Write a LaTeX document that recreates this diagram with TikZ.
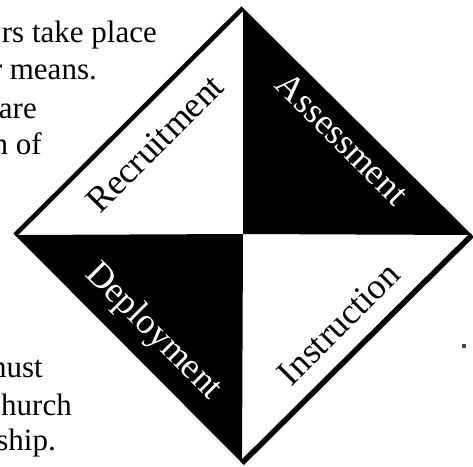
\documentclass[tikz,border=0pt]{standalone}
\usepackage{fontspec}
\setmainfont{Liberation Serif}
\usepackage{tikz}
\tikzset{prose/.style    = {anchor=base east, inner sep=0pt,
                            font=\fontsize{31}{37}\selectfont},
         quadlabel/.style = {anchor=base, inner sep=0pt,
                            font=\fontsize{36}{40}\selectfont},
         rim/.style       = {line width=4.5pt}}

\begin{document}
\begin{tikzpicture}[x=1pt,y=-1pt]
	\useasboundingbox (0,0) rectangle (473,466);
	% diamond corners
	\coordinate (T) at (243,8);
	\coordinate (L) at (15,235);
	\coordinate (R) at (472,235);
	\coordinate (B) at (242,463);
	\coordinate (C) at (243,234);
	\fill[black] (C) -- (T) -- (R) -- cycle;
	\fill[black] (C) -- (L) -- (B) -- cycle;
	\draw[rim] (L) -- (T);
	\draw[rim, line width=5.5pt] (R) -- (B);
	% quarter labels
	\node[quadlabel, rotate=45] (rec) at (163,152) {Recruitment};
	\node[quadlabel, rotate=-45, white] (ass) at (334,147) {Assessment};
	\node[quadlabel, rotate=-45, white] (dep) at (147,338) {Deployment};
	\node[quadlabel, rotate=45] (ins) at (347,332) {Instruction};
	% text running beside the figure
	\node[prose] (t1) at (157,42) {rs take place};
	\node[prose] (t2) at (97,79) {r means.};
	\node[prose] (t3) at (37,118) {are};
	\node[prose] (t4) at (42,154) {n of};
	\node[prose] (b1) at (43,377) {must};
	\node[prose] (b2) at (72,415) {church};
	\node[prose] (b3) at (56,450) {ship.};
	\fill[black!70] (462,344) rectangle (466,348);
\end{tikzpicture}
\end{document}
